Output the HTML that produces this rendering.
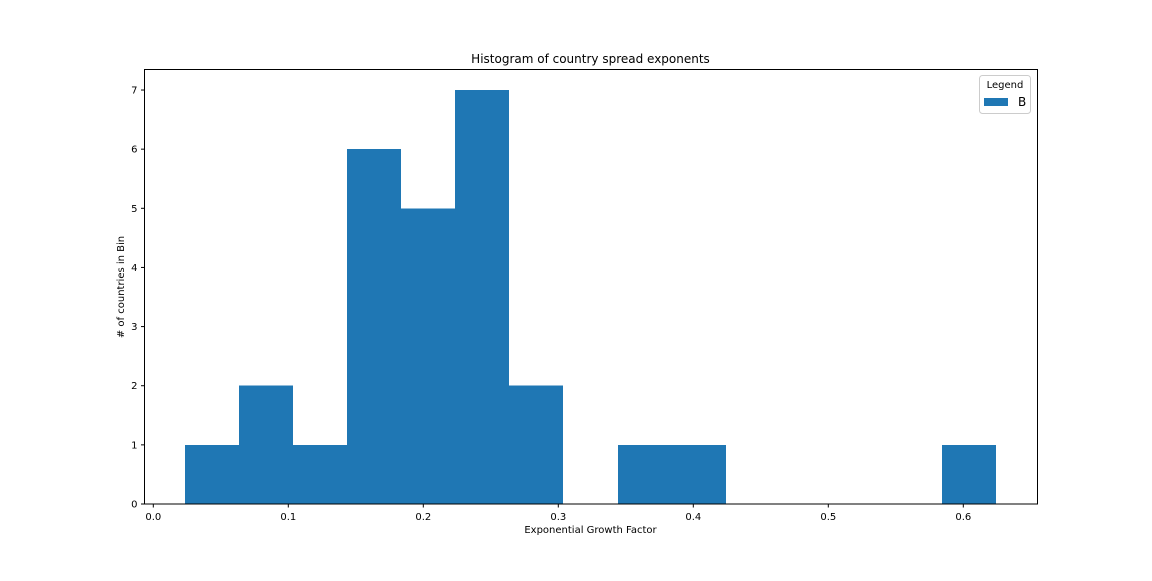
<!DOCTYPE html>
<html><head><meta charset="utf-8"><style>
body{margin:0;background:#fff;font-family:"Liberation Sans","DejaVu Sans",sans-serif}
svg text{font-family:"DejaVu Sans","Liberation Sans",sans-serif}
</style></head><body>
<svg id="chart" width="1152" height="576" xmlns="http://www.w3.org/2000/svg">
<rect width="1152" height="576" fill="#fff"/>
<g id="bars" shape-rendering="crispEdges"></g>
<g id="axes"></g>
<text x="590.5" y="63" text-anchor="middle" font-size="12">Histogram of country spread exponents</text>
<text x="590.5" y="533" text-anchor="middle" font-size="10">Exponential Growth Factor</text>
<text transform="translate(124,287) rotate(-90)" text-anchor="middle" font-size="10"># of countries in Bin</text>
<g>
<rect x="979.5" y="75.5" width="51" height="38" rx="3" fill="#fff" stroke="#ccc"/>
<text x="1005" y="88" text-anchor="middle" font-size="10">Legend</text>
<rect x="984" y="98" width="24" height="8" fill="#1f77b4"/>
<text x="1018" y="106" font-size="12">B</text>
</g>
</svg>
<script>
const binStart = 0.0235;
const binWidth = 0.04005;
const counts = [1,2,1,6,5,7,2,0,1,1,0,0,0,0,1];
const xTicks = [0.0,0.1,0.2,0.3,0.4,0.5,0.6];
const xTickLabels = ["0.0","0.1","0.2","0.3","0.4","0.5","0.6"];
const yTicks = [0,1,2,3,4,5,6,7];

const L=144.5,R=1037.5,T=69.5,B=504;
const xs=v=>153.3+v*1350;
const ys=v=>B-v*59.14;
const NS="http://www.w3.org/2000/svg";
const bars=document.getElementById('bars');
counts.forEach((c,i)=>{
  if(!c) return;
  const r=document.createElementNS(NS,'rect');
  const x0=Math.round(xs(binStart+i*binWidth)), x1=Math.round(xs(binStart+(i+1)*binWidth));
  r.setAttribute('x',x0);r.setAttribute('width',x1-x0);
  r.setAttribute('y',ys(c));r.setAttribute('height',B-ys(c));
  r.setAttribute('fill','#1f77b4');
  
  
  bars.appendChild(r);
});
const ax=document.getElementById('axes');
ax.innerHTML='<rect x="'+L+'" y="'+T+'" width="'+(R-L)+'" height="'+(B-T)+'" fill="none" stroke="#000" stroke-width="1"/>';
xTicks.forEach((v,i)=>{
  const x=xs(v);
  const g=document.createElementNS(NS,'g');
  
  
  g.innerHTML='<line x1="'+x+'" x2="'+x+'" y1="'+B+'" y2="'+(B+3.5)+'" stroke="#000"/><text x="'+x+'" y="'+(B+16)+'" text-anchor="middle" font-size="10">'+xTickLabels[i]+'</text>';
  ax.appendChild(g);
});
yTicks.forEach(v=>{
  const y=ys(v);
  const g=document.createElementNS(NS,'g');
  
  
  g.innerHTML='<line x1="'+L+'" x2="'+(L-3.5)+'" y1="'+y+'" y2="'+y+'" stroke="#000"/><text x="'+(L-7)+'" y="'+(y+3.5)+'" text-anchor="end" font-size="10">'+v+'</text>';
  ax.appendChild(g);
});
</script>
</body></html>
